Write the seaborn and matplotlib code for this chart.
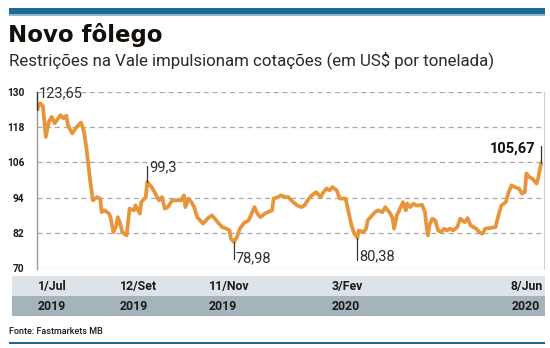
import matplotlib
matplotlib.use("Agg")
import matplotlib.pyplot as plt
import seaborn as sns
import pandas as pd
import numpy as np
from matplotlib.patches import Rectangle

# ---- data ----
start_date = "2019-07-01"
day_offsets = [0, 2, 4, 6, 8, 10, 12, 16, 18, 20, 21, 24, 27, 30, 32, 34, 36, 38, 41, 43,
               44, 46, 49, 50, 52, 54, 55, 57, 58, 61, 63, 66, 67, 70, 71, 74, 75, 78, 80, 83,
               85, 87, 89, 92, 95, 98, 100, 101, 103, 105, 107, 109, 111, 113, 116, 119, 121, 123, 126, 129,
               131, 132, 134, 136, 138, 141, 144, 146, 148, 150, 152, 155, 157, 160, 161, 164, 166, 169, 171, 173,
               177, 180, 182, 185, 187, 190, 193, 195, 197, 199, 201, 204, 206, 210, 212, 214, 216, 218, 219, 222,
               224, 225, 227, 230, 232, 235, 237, 239, 240, 242, 243, 245, 246, 249, 251, 252, 254, 256, 258, 260,
               262, 264, 265, 266, 267, 269, 271, 273, 275, 277, 279, 281, 283, 286, 288, 291, 293, 295, 297, 299,
               301, 303, 305, 308, 312, 314, 316, 319, 321, 323, 325, 328, 330, 332, 333, 335, 337, 340, 341, 343]
prices = [123.65, 126.0, 125.2, 114.6, 119.7, 121.4, 119.2, 122.0, 120.9, 121.8, 118.6, 115.8, 118.0, 119.5, 116.3, 109.5, 100.5, 93.1, 94.2, 93.7,
          89.1, 89.7, 88.6, 87.4, 82.3, 84.6, 87.4, 84.6, 82.3, 81.2, 90.3, 89.7, 91.4, 88.6, 92.5, 94.2, 99.3, 97.6, 95.9, 93.1,
          94.2, 90.3, 90.8, 93.1, 93.1, 93.1, 94.8, 90.8, 93.7, 92.5, 90.8, 87.4, 86.3, 85.2, 86.9, 88.0, 86.9, 85.7, 84.0, 83.5,
          82.9, 80.1, 78.98, 80.6, 83.5, 85.5, 86.3, 88.6, 90.8, 88.6, 87.4, 88.6, 89.1, 89.7, 93.7, 94.2, 94.8, 94.2, 94.2, 93.1,
          91.4, 90.8, 91.4, 93.7, 94.8, 95.9, 94.2, 95.9, 97.1, 96.5, 97.6, 96.5, 93.7, 93.7, 89.1, 84.6, 81.8, 80.38, 82.9, 82.3,
          83.5, 86.3, 87.4, 89.1, 89.7, 89.1, 90.8, 89.5, 89.0, 86.9, 83.5, 88.3, 89.1, 92.5, 89.7, 92.0, 90.8, 92.0, 91.4, 91.4,
          91.6, 89.1, 84.6, 81.2, 84.6, 86.9, 86.3, 82.9, 82.3, 83.5, 82.9, 83.5, 82.9, 84.0, 86.9, 85.7, 87.1, 84.6, 84.0, 83.5,
          82.3, 81.8, 83.5, 83.7, 84.0, 88.0, 91.4, 92.5, 95.9, 98.2, 97.6, 97.1, 95.4, 95.9, 102.2, 101.0, 100.5, 98.8, 100.5, 105.67]
y_ticks = [70, 82, 94, 106, 118, 130]
date_labels = ["1/Jul", "12/Set", "11/Nov", "3/Fev", "8/Jun"]
year_labels = ["2019", "2019", "2019", "2020", "2020"]
highlight_values = [123.65, 99.3, 78.98, 80.38, 105.67]

title = "Novo fôlego"
subtitle = "Restrições na Vale impulsionam cotações (em US$ por tonelada)"
source = "Fonte: Fastmarkets MB"

df = pd.DataFrame({"day": day_offsets, "price": prices})

# ---- styling ----
sns.set_style("white")
plt.rcParams["font.family"] = ["DejaVu Sans"]

W, H = 550, 348
fig = plt.figure(figsize=(5.5, 3.48), dpi=100)
fig.patch.set_facecolor("white")

def fx(px):
    return px / W

def fy(py):
    return 1 - py / H

ax = fig.add_axes([fx(37), fy(268.5), fx(544) - fx(37), fy(91.5) - fy(268.5)])
line_color = "#e8943a"
blue = "#1b6a93"

sns.lineplot(data=df, x="day", y="price", ax=ax, color=line_color, linewidth=2.7,
             solid_joinstyle="round", solid_capstyle="round", zorder=3)

ax.set_xlim(0, 345)
ax.set_ylim(70, 130)
ax.set_yticks(y_ticks)
ax.set_yticklabels([str(v) for v in y_ticks], fontsize=7.3, fontweight="bold", color="#1a1a1a",
                   family="Roboto")
ax.tick_params(axis="y", length=0, pad=9)
ax.set_xticks([])
ax.set_xlabel("")
ax.set_ylabel("")
for v in y_ticks:
    ax.axhline(v, color="#a8a8a8", linewidth=0.9, linestyle=(0, (4, 3)), zorder=1)
for s in ["top", "bottom"]:
    ax.spines[s].set_visible(False)
ax.spines["left"].set_color("#9a9a9a")
ax.spines["left"].set_linewidth(1.0)
ax.spines["right"].set_color("#cfcfcf")
ax.spines["right"].set_linewidth(0.8)

# ---- highlight annotations ----
def fmt(v):
    return f"{v:.2f}".rstrip("0").rstrip(".").replace(".", ",")

ann_col = "#333333"
txt_kw = dict(fontsize=10.5, color="#2e2e2e", va="center", ha="left", family="Roboto")
d = dict(zip(prices, day_offsets))
# start
x0 = d[highlight_values[0]]
ax.plot([x0, x0], [highlight_values[0], 130], color=ann_col, lw=0.9, zorder=4, clip_on=False)
ax.text(x0 + 1.3, 129.4, fmt(highlight_values[0]), **txt_kw)
# 99,3
x1 = d[highlight_values[1]]
ax.plot([x1, x1], [highlight_values[1], 104.7], color=ann_col, lw=0.9, zorder=4)
ax.text(x1 + 1.2, 104.2, fmt(highlight_values[1]), **txt_kw)
# 78,98
x2 = d[highlight_values[2]]
ax.plot([x2, x2], [highlight_values[2], 73.3], color=ann_col, lw=0.9, zorder=4)
ax.text(x2 + 1.2, 73.4, fmt(highlight_values[2]), **txt_kw)
# 80,38
x3 = d[highlight_values[3]]
ax.plot([x3, x3], [highlight_values[3], 72.8], color=ann_col, lw=0.9, zorder=4)
ax.text(x3 + 1.6, 74.1, fmt(highlight_values[3]), **txt_kw)
# last
x4 = d[highlight_values[4]]
ax.plot([x4, x4], [highlight_values[4], 111.6], color=ann_col, lw=0.9, zorder=4)
ax.text(x4 - 4, 110.8, fmt(highlight_values[4]), fontsize=10.5, color="#111111", va="center",
        ha="right", family="Roboto", fontweight="bold")

# ---- header / footer ----
fig.patches.append(Rectangle((fx(9), fy(14.5)), fx(545) - fx(9), fy(8) - fy(14.5),
                             transform=fig.transFigure, facecolor=blue, edgecolor="none"))
fig.patches.append(Rectangle((fx(9), fy(15.5)), fx(545) - fx(9), fy(14.5) - fy(15.5),
                             transform=fig.transFigure, facecolor="#8fb8cf", edgecolor="none"))
fig.text(fx(8), fy(35), title, fontsize=16.5, fontweight="heavy", color="#140f0b",
         va="center", ha="left", family="DejaVu Sans")
fig.text(fx(9), fy(60.5), subtitle, fontsize=12.2, color="#2a2a2a", va="center", ha="left",
         family="Roboto")

# date bands
fig.patches.append(Rectangle((fx(12), fy(296)), fx(545) - fx(12), fy(276) - fy(296),
                             transform=fig.transFigure, facecolor="#dce4ea", edgecolor="none"))
fig.patches.append(Rectangle((fx(12), fy(315.5)), fx(545) - fx(12), fy(296) - fy(315.5),
                             transform=fig.transFigure, facecolor="#a5b4bb", edgecolor="none"))
label_left = [38, 120, 209, 332]
for i, (dl, yl) in enumerate(zip(date_labels, year_labels)):
    last = i == len(date_labels) - 1
    ha = "right" if last else "left"
    xr = 543 if last else label_left[i]
    xy = 540 if last else label_left[i]
    fig.text(fx(xr), fy(286.5), dl, fontsize=8.8, fontweight="bold", color="#1a1a1a",
             va="center", ha=ha, family="Roboto")
    fig.text(fx(xy), fy(306.5), yl, fontsize=8.8, fontweight="bold", color="#1a1a1a",
             va="center", ha=ha, family="Roboto")

fig.text(fx(9), fy(332), source, fontsize=6.5, color="#1a1a1a", va="center", ha="left",
         family="Roboto", fontweight="medium")
fig.patches.append(Rectangle((fx(9), fy(344)), fx(545) - fx(9), fy(341.5) - fy(344),
                             transform=fig.transFigure, facecolor=blue, edgecolor="none"))

fig.savefig("out.png", dpi=100, facecolor="white")
